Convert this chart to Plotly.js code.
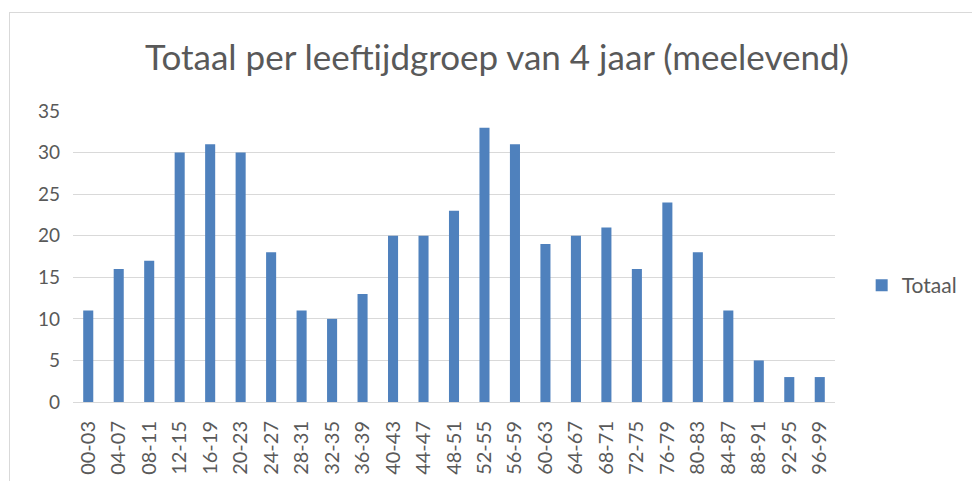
<!DOCTYPE html>
<html><head><meta charset="utf-8">
<script src="https://cdn.plot.ly/plotly-3.0.1.min.js"></script>
<style>
html,body{margin:0;padding:0;background:#fff;overflow:hidden;width:972px;height:481px;}
#frame{position:absolute;left:9px;top:12px;width:970px;height:480px;border:1px solid #d9d9d9;}
#chart{width:970px;height:480px;}
</style></head>
<body>
<div id="frame"><div id="chart"></div></div>
<script>
const categories = ["00-03","04-07","08-11","12-15","16-19","20-23","24-27","28-31","32-35","36-39","40-43","44-47","48-51","52-55","56-59","60-63","64-67","68-71","72-75","76-79","80-83","84-87","88-91","92-95","96-99"];
const totaal = [11,16,17,30,31,30,18,11,10,13,20,20,23,33,31,19,20,21,16,24,18,11,5,3,3];
const seriesName = "Totaal";
const yTicks = [0,5,10,15,20,25,30,35];

const font = "Lato, 'Open Sans', sans-serif";
Plotly.newPlot("chart", [{
  type: "bar", x: categories, y: totaal, name: seriesName,
  marker: {color: "#4F81BD"}, showlegend: true
}], {
  width: 970, height: 480,
  margin: {l: 63, r: 145, t: 98, b: 91},
  paper_bgcolor: "#fff", plot_bgcolor: "#fff",
  bargap: 0.67,
  title: {text: "Totaal per leeftijdgroep van 4 jaar (meelevend)", font: {family: font, size: 35, color: "#595959"}, x: 487/970, xanchor: "center", y: 1 - 45/480, yanchor: "middle", xref: "container"},
  xaxis: {type: "category", tickangle: -90, tickfont: {family: font, size: 20, color: "#595959"}, showgrid: false, showline: true, linecolor: "#d9d9d9", linewidth: 1, ticks: "", zeroline: false, ticklabelstandoff: 10},
  yaxis: {range: [0, 35], tickvals: yTicks, tickfont: {family: font, size: 19, color: "#595959"}, showgrid: true, gridcolor: "#d9d9d9", gridwidth: 1, zeroline: false, showline: false, ticks: "", ticklabelstandoff: 12},
  legend: {x: 1.035, xanchor: "left", y: 0.40, yanchor: "middle", font: {family: font, size: 21, color: "#595959"}, bgcolor: "rgba(0,0,0,0)"}
}, {displayModeBar: false, staticPlot: true});
</script>
</body></html>
